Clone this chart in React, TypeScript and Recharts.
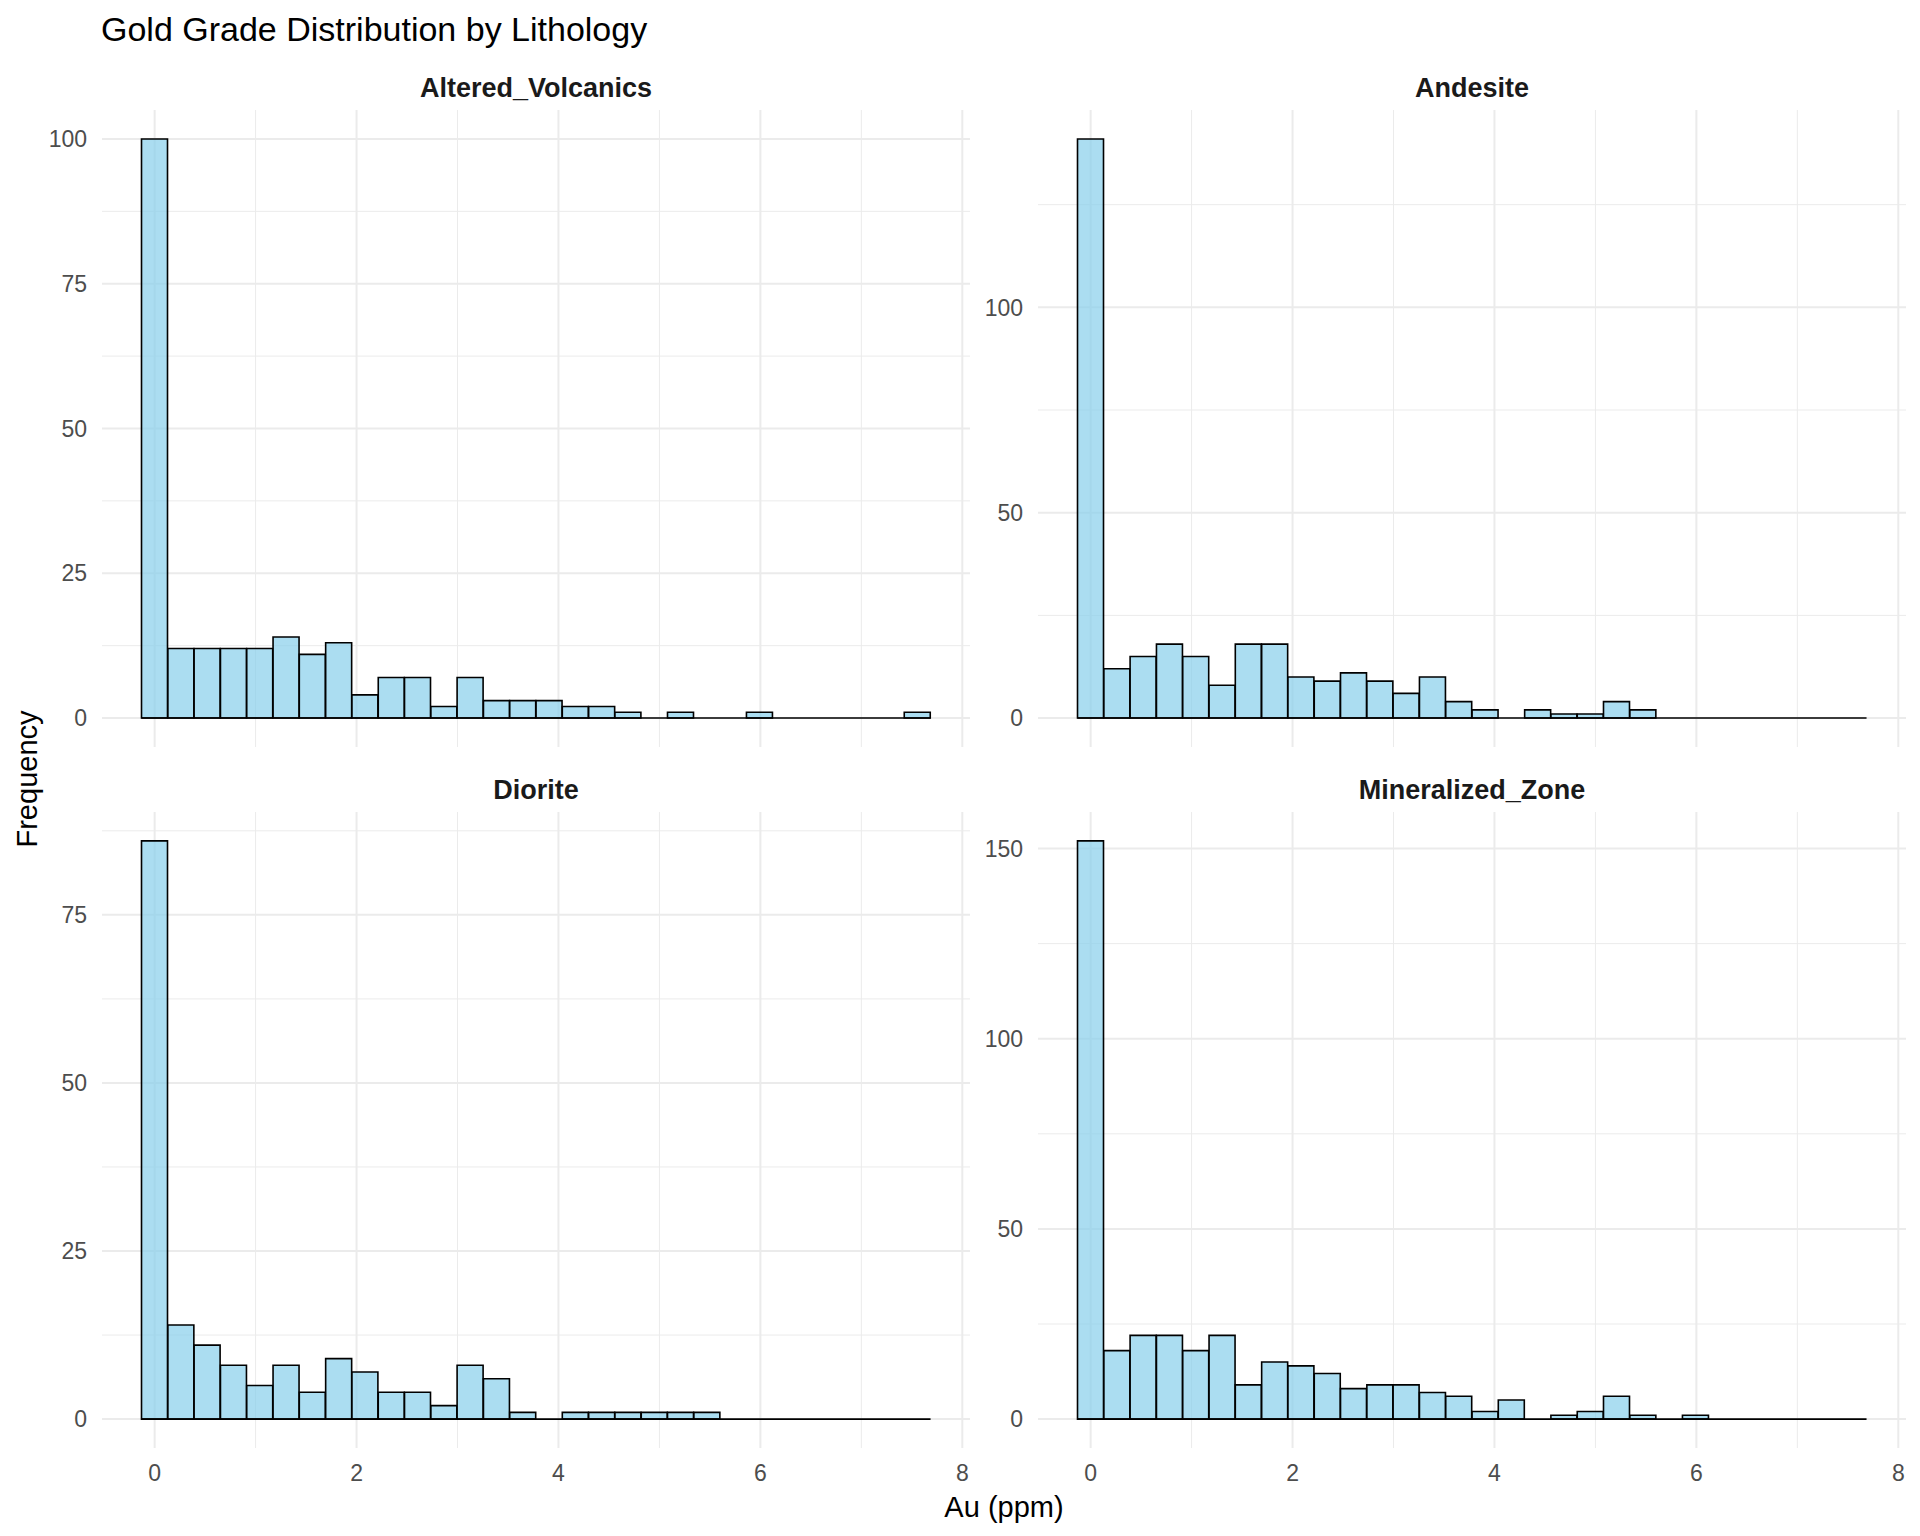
import React from 'react';
import { BarChart, Bar, XAxis, YAxis, ReferenceLine } from 'recharts';

// bin centres shared by all facets (30 bins, ggplot default)
const BIN_MIDS = [
  0, 0.261, 0.521, 0.782, 1.042, 1.303, 1.563, 1.824, 2.084, 2.345, 2.605, 2.866, 3.126, 3.387, 3.647,
  3.908, 4.168, 4.429, 4.689, 4.95, 5.21, 5.471, 5.731, 5.992, 6.252, 6.513, 6.773, 7.034, 7.294, 7.555,
];

const ALTERED_VOLCANICS = [100, 12, 12, 12, 12, 14, 11, 13, 4, 7, 7, 2, 7, 3, 3, 3, 2, 2, 1, 0, 1, 0, 0, 1, 0, 0, 0, 0, 0, 1];
const ANDESITE = [141, 12, 15, 18, 15, 8, 18, 18, 10, 9, 11, 9, 6, 10, 4, 2, 0, 2, 1, 1, 4, 2, 0, 0, 0, 0, 0, 0, 0, 0];
const DIORITE = [86, 14, 11, 8, 5, 8, 4, 9, 7, 4, 4, 2, 8, 6, 1, 0, 1, 1, 1, 1, 1, 1, 0, 0, 0, 0, 0, 0, 0, 0];
const MINERALIZED_ZONE = [152, 18, 22, 22, 18, 22, 9, 15, 14, 12, 8, 9, 9, 7, 6, 2, 5, 0, 1, 2, 6, 1, 0, 1, 0, 0, 0, 0, 0, 0];

const X_TICKS = [0, 2, 4, 6, 8];
const X_MINOR = [1, 3, 5, 7];

const FACETS = [
  { name: 'Altered_Volcanics', counts: ALTERED_VOLCANICS, yTicks: [0, 25, 50, 75, 100], yMinor: [12.5, 37.5, 62.5, 87.5] },
  { name: 'Andesite', counts: ANDESITE, yTicks: [0, 50, 100], yMinor: [25, 75, 125] },
  { name: 'Diorite', counts: DIORITE, yTicks: [0, 25, 50, 75], yMinor: [12.5, 37.5, 62.5, 87.5] },
  { name: 'Mineralized_Zone', counts: MINERALIZED_ZONE, yTicks: [0, 50, 100, 150], yMinor: [25, 75, 125] },
];

const FONT = '"Liberation Sans", Arial, Helvetica, sans-serif';
const TICK_STYLE = { fill: '#4D4D4D', fontSize: 23, fontFamily: FONT };
const GRID = '#EBEBEB';

const PANEL_W = 868;
const Y_AXIS_W = 80;
const X_AXIS_H = 60;
const COL_LEFT = [102, 1038];
const ROW_TOP = [110, 812];
const ROW_H = [637, 636];

const binWidth = BIN_MIDS[1] - BIN_MIDS[0];
const xLo = BIN_MIDS[0] - binWidth / 2;
const xHi = BIN_MIDS[BIN_MIDS.length - 1] + binWidth / 2;
const xPad = (xHi - xLo) * 0.05;
const X_DOMAIN: [number, number] = [xLo - xPad, xHi + xPad];

type Facet = (typeof FACETS)[number];
type PanelProps = { facet: Facet; left: number; top: number; height: number; showX: boolean };

function FacetPanel({ facet, left, top, height, showX }: PanelProps) {
  const data = BIN_MIDS.map((mid, i) => ({ mid, count: facet.counts[i] }));
  const maxCount = Math.max(...facet.counts);
  const yDomain: [number, number] = [-0.05 * maxCount, 1.05 * maxCount];
  const chartW = PANEL_W + Y_AXIS_W;
  const chartH = height + (showX ? X_AXIS_H : 0);
  const margin = { top: 0, right: 0, bottom: 0, left: 0 };

  const axes = (withLabels: boolean) => [
    <XAxis
      key="x"
      type="number"
      dataKey="mid"
      domain={X_DOMAIN}
      allowDataOverflow
      ticks={X_TICKS}
      interval={0}
      height={showX ? X_AXIS_H : 0}
      tick={withLabels && showX ? TICK_STYLE : false}
      tickSize={0}
      tickMargin={17}
      axisLine={false}
      tickLine={false}
    />,
    <YAxis
      key="y"
      type="number"
      domain={yDomain}
      allowDataOverflow
      ticks={facet.yTicks}
      interval={0}
      width={Y_AXIS_W}
      tick={withLabels ? TICK_STYLE : false}
      tickSize={0}
      tickMargin={15}
      axisLine={false}
      tickLine={false}
    />,
  ];

  return (
    <>
      {/* grid layer, kept underneath the translucent bars */}
      <div style={{ position: 'absolute', left: left - Y_AXIS_W, top }}>
        <BarChart width={chartW} height={chartH} data={data} margin={margin}>
          {axes(false)}
          {facet.yMinor.map((v) => (
            <ReferenceLine key={`ym-${v}`} y={v} stroke={GRID} strokeWidth={1} />
          ))}
          {X_MINOR.map((v) => (
            <ReferenceLine key={`xm-${v}`} x={v} stroke={GRID} strokeWidth={1} />
          ))}
          {facet.yTicks.map((v) => (
            <ReferenceLine key={`y-${v}`} y={v} stroke={GRID} strokeWidth={2} />
          ))}
          {X_TICKS.map((v) => (
            <ReferenceLine key={`x-${v}`} x={v} stroke={GRID} strokeWidth={2} />
          ))}
        </BarChart>
      </div>
      <div style={{ position: 'absolute', left: left - Y_AXIS_W, top }}>
        <BarChart width={chartW} height={chartH} data={data} margin={margin} barCategoryGap={0} barGap={0}>
          {axes(true)}
          <Bar dataKey="count" fill="skyblue" fillOpacity={0.7} stroke="#000" strokeWidth={1.6} isAnimationActive={false} />
          <ReferenceLine segment={[{ x: xLo, y: 0 }, { x: xHi, y: 0 }]} stroke="#000" strokeWidth={1.6} />
        </BarChart>
      </div>
    </>
  );
}

export default function App() {
  return (
    <div style={{ position: 'absolute', left: 0, top: 0, width: 1920, height: 1536, background: '#fff', overflow: 'hidden' }}>
      {FACETS.map((facet, i) => {
        const row = Math.floor(i / 2);
        const col = i % 2;
        return (
          <FacetPanel
            key={facet.name}
            facet={facet}
            left={COL_LEFT[col]}
            top={ROW_TOP[row]}
            height={ROW_H[row]}
            showX={row === 1}
          />
        );
      })}
      <svg width={1920} height={1536} style={{ position: 'absolute', left: 0, top: 0, pointerEvents: 'none' }}>
        <text x={101} y={41} fontSize={34} fontFamily={FONT} fill="#000">
          Gold Grade Distribution by Lithology
        </text>
        {FACETS.map((facet, i) => {
          const row = Math.floor(i / 2);
          const col = i % 2;
          return (
            <text
              key={facet.name}
              x={COL_LEFT[col] + PANEL_W / 2}
              y={ROW_TOP[row] - 13}
              textAnchor="middle"
              fontSize={27}
              fontWeight="bold"
              fontFamily={FONT}
              fill="#1A1A1A"
            >
              {facet.name}
            </text>
          );
        })}
        <text x={1004} y={1517} textAnchor="middle" fontSize={29} fontFamily={FONT} fill="#000">
          Au (ppm)
        </text>
        <text transform="translate(37,779) rotate(-90)" textAnchor="middle" fontSize={29} fontFamily={FONT} fill="#000">
          Frequency
        </text>
      </svg>
    </div>
  );
}
